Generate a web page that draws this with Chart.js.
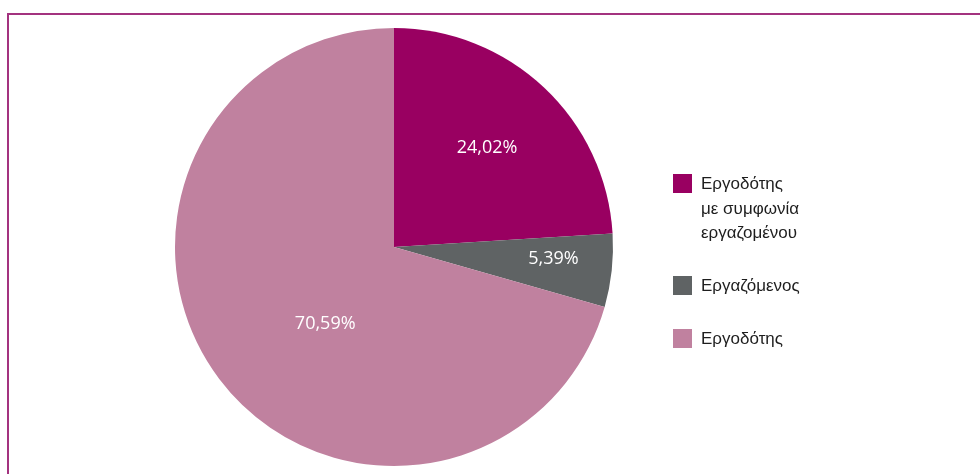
<!DOCTYPE html>
<html>
<head>
<meta charset="utf-8">
<script src="https://cdn.jsdelivr.net/npm/chart.js@4"></script>
<style>
    html, body { margin: 0; padding: 0; background: #fff; }
    #wrap { position: relative; width: 980px; height: 474px; overflow: hidden; }
    #frame {
        position: absolute; left: 7px; top: 13px; right: -10px; bottom: -10px;
        border-top: 2px solid #a3327f; border-left: 2px solid #a3327f;
    }
    canvas { position: absolute; left: 0; top: 0; }
</style>
</head>
<body>
<div id="wrap">
    <div id="frame"></div>
    <canvas id="pieChart" width="980" height="474"></canvas>
</div>
<script>
// Datos del gráfico
const categories = [
    ['Εργοδότης', 'με συμφωνία', 'εργαζομένου'],
    ['Εργαζόμενος'],
    ['Εργοδότης']
];
const shares = [24.02, 5.39, 70.59];
const sliceColors = ['#990061', '#5f6364', '#c0819f'];

// posición radial de cada etiqueta (fracción del radio) y desplazamiento angular en grados
const labelRadius = [0.62, 0.73, 0.47];
const labelShift = [0, -2, -11];

const sliceLabels = {
    id: 'sliceLabels',
    afterDatasetsDraw(chart) {
        const ctx = chart.ctx;
        const meta = chart.getDatasetMeta(0);
        ctx.save();
        ctx.fillStyle = '#ffffff';
        ctx.font = '18px "Open Sans", sans-serif';
        ctx.textAlign = 'center';
        ctx.textBaseline = 'middle';
        meta.data.forEach((arc, i) => {
            const mid = (arc.startAngle + arc.endAngle) / 2 + labelShift[i] * Math.PI / 180;
            const r = arc.outerRadius * labelRadius[i];
            const x = arc.x + Math.cos(mid) * r;
            const y = arc.y + Math.sin(mid) * r;
            ctx.fillText(shares[i].toFixed(2).replace('.', ',') + '%', x, y);
        });
        ctx.restore();
    }
};

const sideLegend = {
    id: 'sideLegend',
    afterDraw(chart) {
        const ctx = chart.ctx;
        const left = 673, box = 19, lineH = 24.5;
        const tops = [174, 276, 329];
        ctx.save();
        ctx.font = '17px "Liberation Sans", Arial, sans-serif';
        ctx.textBaseline = 'middle';
        ctx.textAlign = 'left';
        categories.forEach((lines, i) => {
            ctx.fillStyle = sliceColors[i];
            ctx.fillRect(left, tops[i], box, box);
            ctx.fillStyle = '#1e1e1e';
            lines.forEach((t, j) => {
                ctx.fillText(t, left + 28, tops[i] + box / 2 + 1 + j * lineH);
            });
        });
        ctx.restore();
    }
};

new Chart(document.getElementById('pieChart').getContext('2d'), {
    type: 'pie',
    data: {
        labels: categories.map(l => l.join(' ')),
        datasets: [{
            data: shares,
            backgroundColor: sliceColors,
            borderWidth: 0
        }]
    },
    options: {
        responsive: false,
        animation: false,
        layout: { padding: { left: 175, right: 367, top: 28, bottom: 8 } },
        plugins: {
            legend: { display: false },
            tooltip: { enabled: false }
        }
    },
    plugins: [sliceLabels, sideLegend]
});
</script>
</body>
</html>
